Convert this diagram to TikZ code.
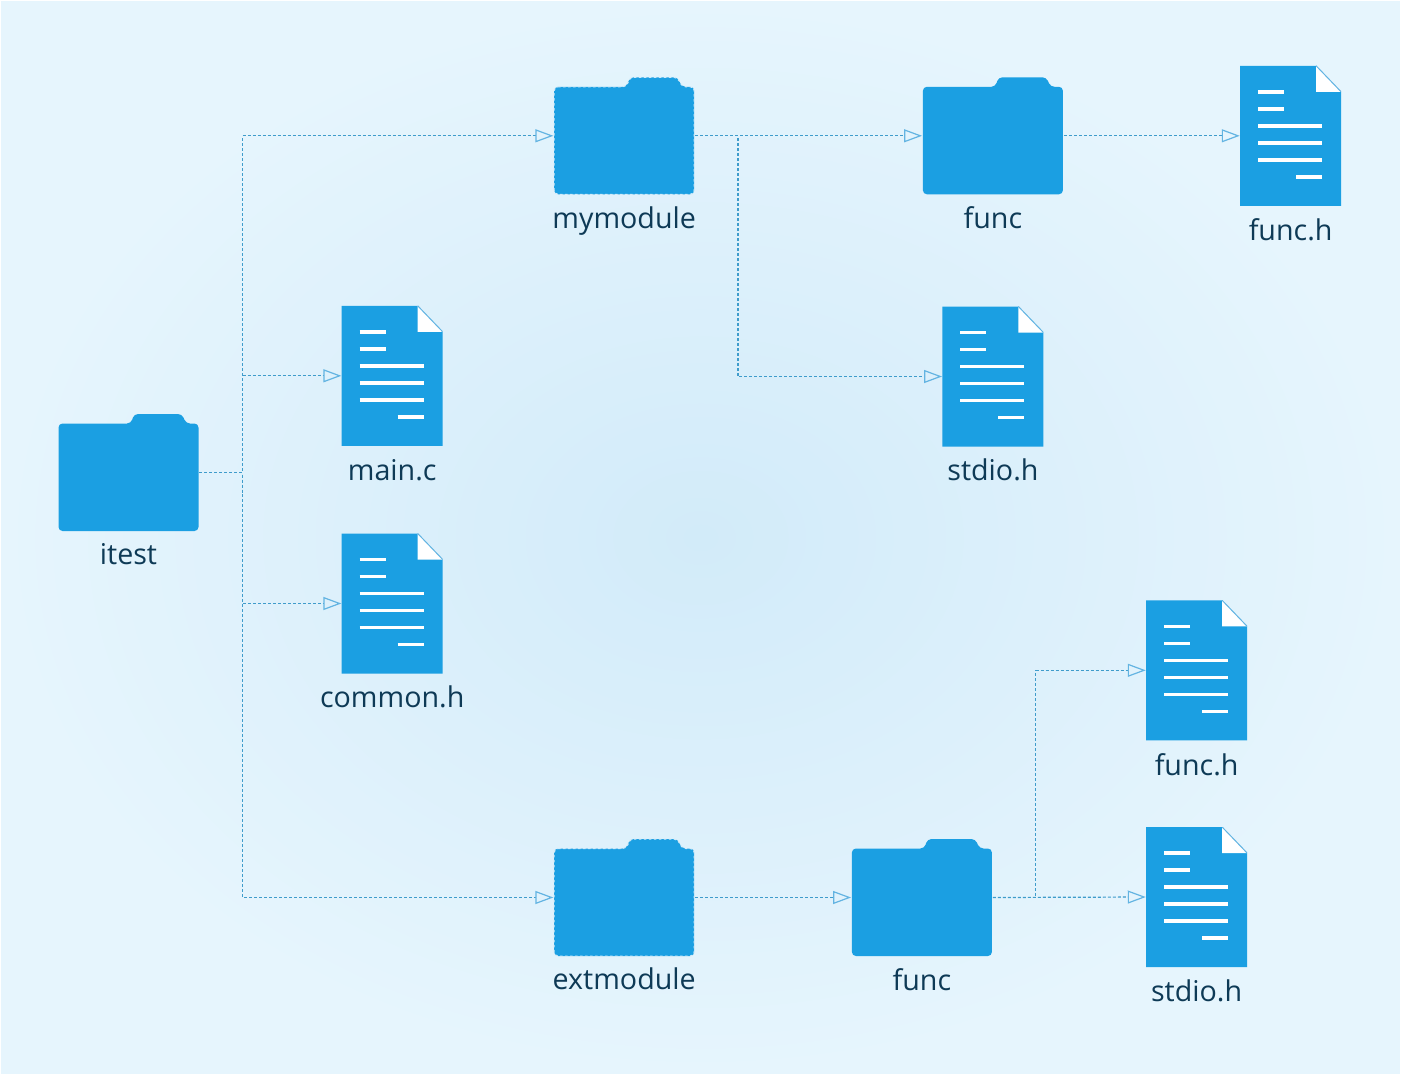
\documentclass[tikz,border=0pt]{standalone}
\usepackage{fontspec}
\setmainfont{Open Sans}
\usepackage{tikz}
\usetikzlibrary{positioning,arrows.meta}
\usepackage{xcolor}
\definecolor{fileblue}{HTML}{1B9FE2}
\definecolor{linkblue}{HTML}{3F9CCB}
\definecolor{foldblue}{HTML}{63B4E2}
\definecolor{labelink}{HTML}{0E3A56}
\definecolor{bginner}{HTML}{D2EBF9}
\definecolor{bgouter}{HTML}{E6F5FD}

\begin{document}
\begin{tikzpicture}[
    lbl/.style={font=\fontsize{16.3}{20}\selectfont, text=labelink, inner sep=0pt},
    folder line/.style={draw=none},
    folder/.style={minimum width=2.82cm, minimum height=2.36cm, inner sep=0pt,
        path picture={
            \path[fill=fileblue, rounded corners=0.08cm, folder line]
                (-1.40,0.98) -- (0.05,0.98) -- (0.11,1.17) -- (1.07,1.17) -- (1.15,0.98)
                -- (1.40,0.98) -- (1.40,-1.17) -- (-1.40,-1.17) -- cycle;
        }},
    selfolder/.style={folder, folder line/.style={draw=bginner, line width=0.02cm,
        dash pattern=on 0.05cm off 0.05cm}},
    doc/.style={minimum width=2.02cm, minimum height=2.8cm, inner sep=0pt,
        path picture={
            \fill[fileblue] (-1.01,1.4) -- (0.51,1.4) -- (1.01,0.88) -- (1.01,-1.4) -- (-1.01,-1.4) -- cycle;
            \fill[white] (0.51,1.4) -- (1.01,0.88) -- (0.51,0.88) -- cycle;
            \draw[foldblue, line width=0.02cm] (0.51,1.4) -- (1.01,0.88);
            \draw[white, line width=0.07cm]
                (-0.65,0.88) -- (-0.13,0.88)
                (-0.65,0.54) -- (-0.13,0.54)
                (-0.65,0.2) -- (0.63,0.2)
                (-0.65,-0.14) -- (0.63,-0.14)
                (-0.65,-0.48) -- (0.63,-0.48)
                (0.11,-0.82) -- (0.63,-0.82);
        }},
    arr/.style={-{Triangle[open, length=0.36cm, width=0.26cm, color=foldblue]}, linkblue,
        line width=0.024cm, dash pattern=on 0.06cm off 0.04cm}
]
\useasboundingbox (0,0) rectangle (28.02,-21.5);
\shadedraw[draw=white, line width=0.03cm, inner color=bginner, outer color=bgouter]
    (0,0) rectangle (28.02,-21.5);

\node[folder] (itest) at (2.57,-9.45) {};
\node[selfolder, above right=4.36cm and 7.08cm of itest] (mymodule) {};
\node[folder, right=4.54cm of mymodule] (functop) {};
\node[doc, right=3.52cm of functop] (funchtop) {};
\node[doc, below=2.22cm of functop] (stdiotop) {};
\node[doc, above right=-0.66cm and 2.84cm of itest] (mainc) {};
\node[doc, below=1.74cm of mainc] (commonh) {};
\node[selfolder, below=12.86cm of mymodule] (extmodule) {};
\node[folder, right=3.12cm of extmodule] (funcbot) {};
\node[doc, above right=1.95cm and 3.06cm of funcbot] (funchbot) {};
\node[doc, below=1.72cm of funchbot] (stdiobot) {};

\node[lbl, below=0.22cm of itest] (itestlbl) {itest};
\node[lbl, below=0.22cm of mymodule] (mymodulelbl) {mymodule};
\node[lbl, below=0.22cm of functop] (functoplbl) {func};
\node[lbl, below=0.24cm of funchtop] (funchtoplbl) {func.h};
\node[lbl, below=0.24cm of stdiotop] (stdiotoplbl) {stdio.h};
\node[lbl, below=0.26cm of mainc] (mainclbl) {main.c};
\node[lbl, below=0.24cm of commonh] (commonhlbl) {common.h};
\node[lbl, below=0.22cm of extmodule] (extmodulelbl) {extmodule};
\node[lbl, below=0.22cm of funcbot] (funcbotlbl) {func};
\node[lbl, below=0.26cm of funchbot] (funchbotlbl) {func.h};
\node[lbl, below=0.24cm of stdiobot] (stdiobotlbl) {stdio.h};

\draw[arr] (itest.east) -- ++(0.86,0) |- (mymodule.west);
\draw[arr] (itest.east) -- ++(0.86,0) |- (mainc.west);
\draw[arr] (itest.east) -- ++(0.86,0) |- (commonh.west);
\draw[arr] (itest.east) -- ++(0.86,0) |- (extmodule.west);
\draw[arr] (mymodule.east) -- (functop.west);
\draw[arr] (mymodule.east) -- ++(0.86,0) |- (stdiotop.west);
\draw[arr] (functop.east) -- (funchtop.west);
\draw[arr] (extmodule.east) -- (funcbot.west);
\draw[arr] (funcbot.east) -- ++(0.86,0) |- (funchbot.west);
\draw[arr] (funcbot.east) -- (stdiobot.west);
\end{tikzpicture}
\end{document}
